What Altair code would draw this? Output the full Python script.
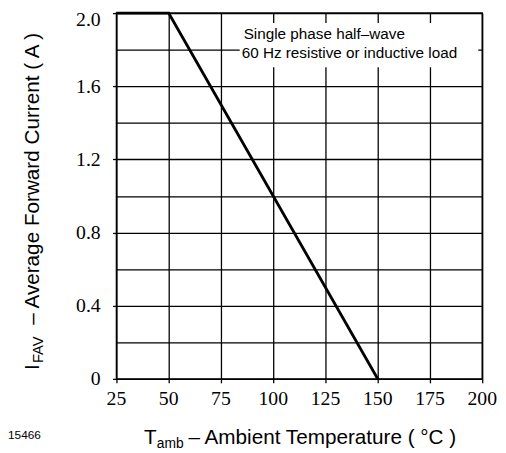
import altair as alt
import pandas as pd

# data
temp = [25, 50, 150]
current = [2.0, 2.0, 0.0]
x_ticks = [25, 50, 75, 100, 125, 150, 175, 200]
y_grid = [0.0, 0.2, 0.4, 0.6, 0.8, 1.0, 1.2, 1.4, 1.6, 1.8, 2.0]
y_label_vals = [0.0, 0.4, 0.8, 1.2, 1.6]
y_label_txt = ["0", "0.4", "0.8", "1.2", "1.6"]
y_top_val = [2.0]
y_top_txt = ["2.0"]
note_lines = ["Single phase half\u2013wave", "60 Hz resistive or inductive load"]
x_title = ["T", "amb", "\u2013 Ambient Temperature ( \u00b0C )"]
y_title = ["I", "FAV", "\u2013 Average Forward Current ( A )"]
fig_id = ["15466"]

SANS = "Liberation Sans"
SERIF = "Times New Roman"

xs = alt.Scale(domain=[25, 200], nice=False, zero=False)
ys = alt.Scale(domain=[0, 2], nice=False, zero=False)

x_axis = alt.Axis(
    values=x_ticks, title=None, grid=True, gridColor="black", gridWidth=1.3,
    gridOpacity=1, domain=False, ticks=True, tickSize=4, tickColor="black",
    tickWidth=1.3, labels=False,
)
y_axis = alt.Axis(
    values=y_grid, title=None, grid=True, gridColor="black", gridWidth=1.3,
    gridOpacity=1, domain=False, ticks=True, tickSize=4, tickColor="black",
    tickWidth=1.3,
    tickOpacity={"condition": {"test": "round(datum.value*10) % 4 == 0", "value": 1}, "value": 0},
    labels=False,
)

df = pd.DataFrame({"t": temp, "i": current})

line = alt.Chart(df).mark_line(color="black", strokeWidth=3).encode(
    x=alt.X("t:Q", scale=xs, axis=x_axis),
    y=alt.Y("i:Q", scale=ys, axis=y_axis),
)

xlab = alt.Chart(pd.DataFrame({"t": x_ticks, "s": [str(v) for v in x_ticks]})).mark_text(
    font=SERIF, fontSize=20, color="black", align="center", baseline="alphabetic"
).encode(x=alt.X("t:Q", scale=xs, axis=x_axis), y=alt.value(397), text="s:N")

ylab = alt.Chart(pd.DataFrame({"i": y_label_vals, "s": y_label_txt})).mark_text(
    font=SERIF, fontSize=20, color="black", align="right", baseline="alphabetic", dy=6.5
).encode(y=alt.Y("i:Q", scale=ys, axis=y_axis), x=alt.value(-16), text="s:N")

ytop = alt.Chart(pd.DataFrame({"i": y_top_val, "s": y_top_txt})).mark_text(
    font=SERIF, fontSize=20, color="black", align="right", baseline="alphabetic", dy=13
).encode(y=alt.Y("i:Q", scale=ys, axis=y_axis), x=alt.value(-16), text="s:N")

one = pd.DataFrame({"k": [0]})

box = alt.Chart(one).mark_rect(color="white").encode(
    x=alt.value(125), x2=alt.value(367), y=alt.value(10), y2=alt.value(55)
)

def txt(s, x, y, size, font=SANS, angle=0):
    return alt.Chart(pd.DataFrame({"s": [s]})).mark_text(
        align="left", baseline="alphabetic", font=font, fontSize=size,
        color="black", angle=angle
    ).encode(x=alt.value(x), y=alt.value(y), text="s:N")

note1 = txt(note_lines[0], 129, 26, 15.5)
note2 = txt(note_lines[1], 127, 46, 15.5)

xt1 = txt(x_title[0], 28, 437, 21)
xt2 = txt(x_title[1], 41, 441, 14)
xt3 = txt(x_title[2], 73, 437, 21)

yt1 = txt(y_title[0], -79, 362, 21, angle=270)
yt2 = txt(y_title[1], -74, 355, 15, angle=270)
yt3 = txt(y_title[2], -79, 316, 21, angle=270)

fid = txt(fig_id[0], -110, 432, 12)

chart = alt.layer(
    line, box, xlab, ylab, ytop, note1, note2, xt1, xt2, xt3, yt1, yt2, yt3, fid
).properties(
    width=371, height=371,
    padding={"left": 110, "top": 2, "right": 16, "bottom": 72},
    autosize=alt.AutoSizeParams(type="none"),
    background="white",
).configure_view(
    stroke="black", strokeWidth=1.5
)

chart.save("out.html", embed_options={"renderer": "svg", "actions": False})
